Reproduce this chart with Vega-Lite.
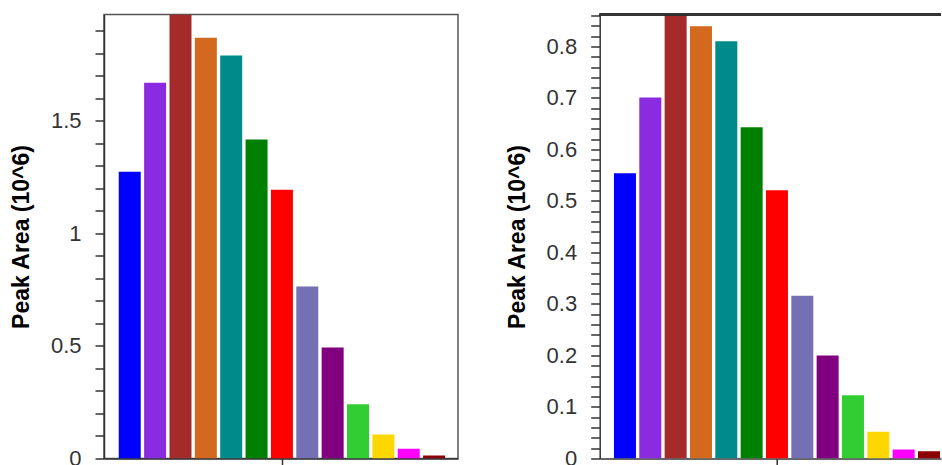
{
  "$schema": "https://vega.github.io/schema/vega-lite/v6.json",
  "padding": {"left": 9, "top": 4.5, "right": 0, "bottom": 0},
  "spacing": 46.7,
  "config": {
    "font": "Liberation Sans",
    "axis": {
      "domainColor": "#333",
      "domainWidth": 1.5,
      "tickColor": "#333",
      "tickWidth": 1.5,
      "grid": false,
      "labelOverlap": false,
      "labelFlush": false,
      "labelFont": "Liberation Sans",
      "labelFontSize": 22,
      "labelColor": "#333",
      "titleFont": "Liberation Sans",
      "titleFontSize": 23,
      "titleFontWeight": "bold",
      "titleColor": "#000"
    }
  },
  "datasets": {
    "left": [
      {"idx": 1, "peak": "P1", "area": 1.274},
      {"idx": 2, "peak": "P2", "area": 1.670},
      {"idx": 3, "peak": "P3", "area": 1.973},
      {"idx": 4, "peak": "P4", "area": 1.870},
      {"idx": 5, "peak": "P5", "area": 1.791},
      {"idx": 6, "peak": "P6", "area": 1.418},
      {"idx": 7, "peak": "P7", "area": 1.194},
      {"idx": 8, "peak": "P8", "area": 0.764},
      {"idx": 9, "peak": "P9", "area": 0.493},
      {"idx": 10, "peak": "P10", "area": 0.241},
      {"idx": 11, "peak": "P11", "area": 0.107},
      {"idx": 12, "peak": "P12", "area": 0.043},
      {"idx": 13, "peak": "P13", "area": 0.013}
    ],
    "right": [
      {"idx": 1, "peak": "P1", "area": 0.554},
      {"idx": 2, "peak": "P2", "area": 0.701},
      {"idx": 3, "peak": "P3", "area": 0.862},
      {"idx": 4, "peak": "P4", "area": 0.839},
      {"idx": 5, "peak": "P5", "area": 0.810},
      {"idx": 6, "peak": "P6", "area": 0.643},
      {"idx": 7, "peak": "P7", "area": 0.521},
      {"idx": 8, "peak": "P8", "area": 0.316},
      {"idx": 9, "peak": "P9", "area": 0.200},
      {"idx": 10, "peak": "P10", "area": 0.123},
      {"idx": 11, "peak": "P11", "area": 0.052},
      {"idx": 12, "peak": "P12", "area": 0.0174},
      {"idx": 13, "peak": "P13", "area": 0.014}
    ]
  },
  "hconcat": [
    {
      "width": 354,
      "height": 444,
      "view": {"stroke": "#555", "strokeWidth": 1.5},
      "data": {"name": "left"},
      "mark": {"type": "bar", "size": 22, "clip": true},
      "encoding": {
        "x": {
          "field": "idx", "type": "quantitative",
          "scale": {"domain": [0.182, 13.745], "nice": false, "zero": false},
          "axis": {
            "values": [7], "labels": false, "title": null, "tickSize": 6,
            "encode": {"ticks": {"update": {"y": {"value": -9}, "y2": {"value": 6}}}}
          }
        },
        "y": {
          "field": "area", "type": "quantitative",
          "scale": {"domain": [0, 1.973], "nice": false},
          "axis": {
            "title": "Peak Area (10^6)",
            "titlePadding": 17,
            "values": [0, 0.1, 0.2, 0.3, 0.4, 0.5, 0.6, 0.7, 0.8, 0.9, 1, 1.1, 1.2, 1.3, 1.4, 1.5, 1.6, 1.7, 1.8, 1.9],
            "tickCount": 100,
            "format": ".2~f",
            "labelExpr": "round(datum.value*10) % 5 === 0 ? datum.label : ''",
            "labelOverlap": false,
            "tickSize": 9,
            "labelPadding": 14,
            "encode": {"ticks": {"update": {
              "x": {"signal": "round(datum.value*10) % 5 === 0 ? 8 : 5"},
              "x2": {"signal": "round(datum.value*10) % 5 === 0 ? -9 : -4"}
            }}}
          }
        },
        "color": {
          "field": "peak", "type": "nominal", "legend": null,
          "scale": {
            "domain": ["P1", "P2", "P3", "P4", "P5", "P6", "P7", "P8", "P9", "P10", "P11", "P12", "P13"],
            "range": ["#0000FF", "#8A2BE2", "#A52A2A", "#D2691E", "#008B8B", "#008000", "#FF0000", "#7570B3", "#800080", "#32CD32", "#FFD700", "#FF00FF", "#8B0000"]
          }
        }
      }
    },
    {
      "width": 341.3,
      "height": 444,
      "view": {"stroke": null},
      "data": {"name": "right"},
      "layer": [
        {
          "mark": {"type": "bar", "size": 22, "clip": true},
          "encoding": {
            "x": {
              "field": "idx", "type": "quantitative",
              "scale": {"domain": [0.2, 13.277], "nice": false, "zero": false},
              "axis": {
                "values": [7], "labels": false, "title": null, "tickSize": 6,
                "encode": {"ticks": {"update": {"y": {"value": -9}, "y2": {"value": 6}}}}
              }
            },
            "y": {
              "field": "area", "type": "quantitative",
              "scale": {"domain": [0, 0.862], "nice": false},
              "axis": {
                "title": "Peak Area (10^6)",
                "titlePadding": 17,
                "values": [0, 0.02, 0.04, 0.06, 0.08, 0.1, 0.12, 0.14, 0.16, 0.18, 0.2, 0.22, 0.24, 0.26, 0.28, 0.3, 0.32, 0.34, 0.36, 0.38, 0.4, 0.42, 0.44, 0.46, 0.48, 0.5, 0.52, 0.54, 0.56, 0.58, 0.6, 0.62, 0.64, 0.66, 0.68, 0.7, 0.72, 0.74, 0.76, 0.78, 0.8, 0.82, 0.84, 0.86],
                "tickCount": 100,
                "format": ".2~f",
                "labelExpr": "round(datum.value*100) % 10 === 0 ? datum.label : ''",
                "labelOverlap": false,
                "tickSize": 9,
                "labelPadding": 14,
                "encode": {"ticks": {"update": {
                  "x": {"signal": "round(datum.value*100) % 10 === 0 ? 9 : 4"},
                  "x2": {"signal": "round(datum.value*100) % 10 === 0 ? -10 : -4"}
                }}}
              }
            },
            "color": {
              "field": "peak", "type": "nominal", "legend": null,
              "scale": {
                "domain": ["P1", "P2", "P3", "P4", "P5", "P6", "P7", "P8", "P9", "P10", "P11", "P12", "P13"],
                "range": ["#0000FF", "#8A2BE2", "#A52A2A", "#D2691E", "#008B8B", "#008000", "#FF0000", "#7570B3", "#800080", "#32CD32", "#FFD700", "#FF00FF", "#8B0000"]
              }
            }
          }
        },
        {
          "mark": {"type": "rule", "color": "#333", "strokeWidth": 1.5},
          "encoding": {"y": {"datum": 0.862}}
        }
      ]
    }
  ]
}
